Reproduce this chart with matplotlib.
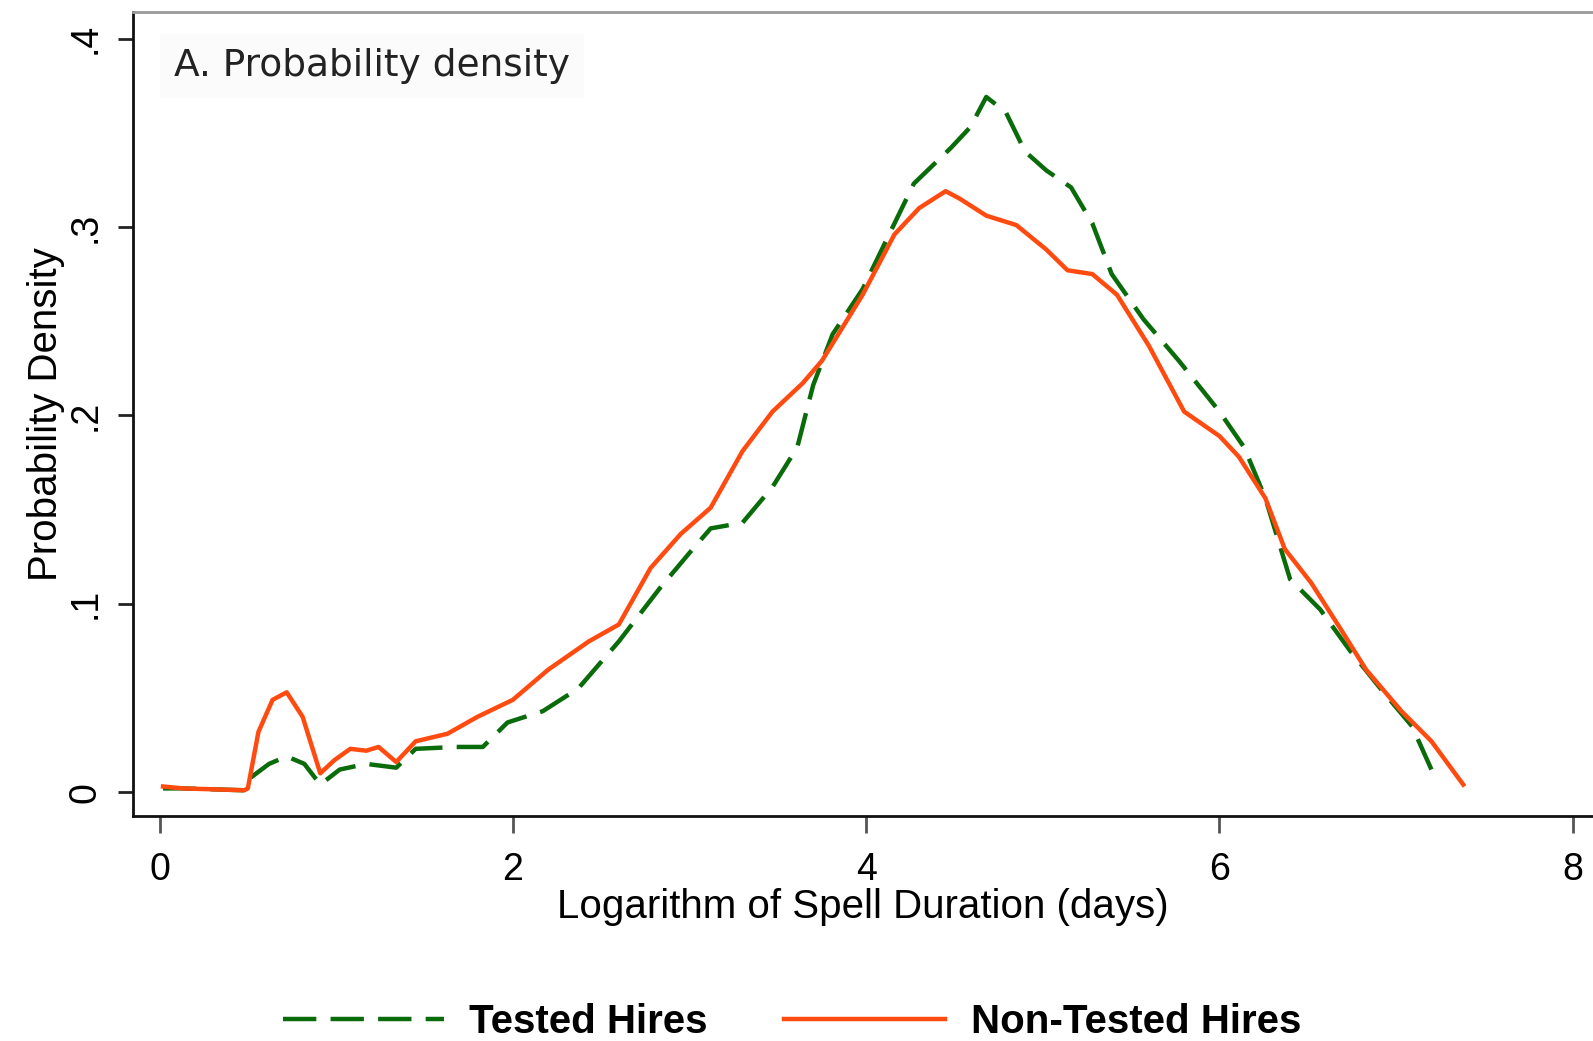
import numpy as np
import matplotlib.pyplot as plt

# log spell duration (x) and density values
x_non_tested = [0.02, 0.13, 0.48, 0.50, 0.56, 0.64, 0.72, 0.81, 0.91, 0.99, 1.08, 1.17, 1.24,
                1.34, 1.45, 1.63, 1.80, 2.00, 2.20, 2.43, 2.60, 2.78, 2.95, 3.12, 3.30, 3.47,
                3.64, 3.75, 3.98, 4.16, 4.30, 4.45, 4.53, 4.68, 4.85, 5.02, 5.14, 5.28, 5.42,
                5.60, 5.80, 6.00, 6.11, 6.26, 6.37, 6.52, 6.69, 6.83, 7.03, 7.20, 7.38]
y_non_tested = [0.003, 0.002, 0.001, 0.002, 0.032, 0.049, 0.053, 0.040, 0.010, 0.017, 0.023,
                0.022, 0.024, 0.016, 0.027, 0.031, 0.040, 0.049, 0.065, 0.080, 0.089, 0.119,
                0.137, 0.151, 0.181, 0.202, 0.217, 0.229, 0.264, 0.296, 0.310, 0.319, 0.315,
                0.306, 0.301, 0.288, 0.277, 0.275, 0.264, 0.237, 0.202, 0.189, 0.178, 0.156,
                0.129, 0.111, 0.086, 0.065, 0.043, 0.027, 0.004]

x_tested = [0.02, 0.13, 0.48, 0.52, 0.62, 0.72, 0.82, 0.91, 1.02, 1.17, 1.34, 1.45, 1.68,
            1.83, 1.97, 2.17, 2.37, 2.60, 2.83, 3.00, 3.12, 3.30, 3.47, 3.61, 3.70, 3.81,
            3.98, 4.13, 4.27, 4.48, 4.59, 4.68, 4.79, 4.90, 5.02, 5.16, 5.28, 5.39, 5.57,
            5.77, 6.00, 6.14, 6.26, 6.40, 6.57, 6.74, 6.92, 7.09, 7.20]
y_tested = [0.002, 0.002, 0.001, 0.008, 0.015, 0.019, 0.015, 0.004, 0.012, 0.015, 0.013,
            0.023, 0.024, 0.024, 0.037, 0.043, 0.055, 0.080, 0.108, 0.127, 0.140, 0.143,
            0.162, 0.183, 0.216, 0.243, 0.267, 0.296, 0.323, 0.342, 0.353, 0.369, 0.361,
            0.340, 0.330, 0.321, 0.302, 0.275, 0.251, 0.229, 0.202, 0.183, 0.156, 0.113,
            0.097, 0.075, 0.054, 0.035, 0.012]

x_ticks = [0, 2, 4, 6, 8]
y_ticks = [0, 0.1, 0.2, 0.3, 0.4]
y_tick_labels = ['0', '.1', '.2', '.3', '.4']

plt.rcParams['font.family'] = ['Liberation Sans', 'DejaVu Sans']

fig = plt.figure(figsize=(15.93, 10.41), dpi=100)
ax = fig.add_axes([0.0835, 0.2166, 0.9160, 0.7717])

green = '#0a6b0a'
orange = '#ff4a10'
ax.plot(x_tested, y_tested, color=green, lw=3.2, ls=(0, (7.5, 3.2)), label='Tested Hires')
ax.plot(x_non_tested, y_non_tested, color=orange, lw=3.2, label='Non-Tested Hires')

ax.set_xlim(-0.15, 8.11)
ax.set_ylim(-0.0124, 0.414)
ax.set_xticks(x_ticks)
ax.set_xticklabels([str(t) for t in x_ticks], fontsize=27)
ax.set_yticks(y_ticks)
ax.set_yticklabels(y_tick_labels, fontsize=27, rotation=90, va='center')
ax.tick_params(axis='x', length=12, width=2, color='#555555', pad=14)
ax.tick_params(axis='y', length=11, width=2, color='#222222', pad=10)

for s in ['left', 'bottom']:
    ax.spines[s].set_linewidth(2)
    ax.spines[s].set_color('#111111')
ax.spines['top'].set_color('#999999')
ax.spines['top'].set_linewidth(2)
ax.spines['right'].set_visible(False)

ax.set_xlabel('Logarithm of Spell Duration (days)', fontsize=29, labelpad=0)
ax.set_ylabel('Probability Density', fontsize=29, labelpad=2)

ax.text(0.028, 0.955, 'A. Probability density', transform=ax.transAxes,
        fontsize=27, family='DejaVu Sans', color='#222222', va='top', ha='left',
        bbox=dict(facecolor='#fbfbfb', edgecolor='none', pad=10))

leg = fig.legend(loc='lower center', bbox_to_anchor=(0.497, -0.035), ncol=2, frameon=False,
                 handlelength=4.0, columnspacing=1.9, handletextpad=0.63,
                 prop={'size': 29, 'weight': 'bold'})

fig.savefig('out.png', dpi=100, facecolor='white')
